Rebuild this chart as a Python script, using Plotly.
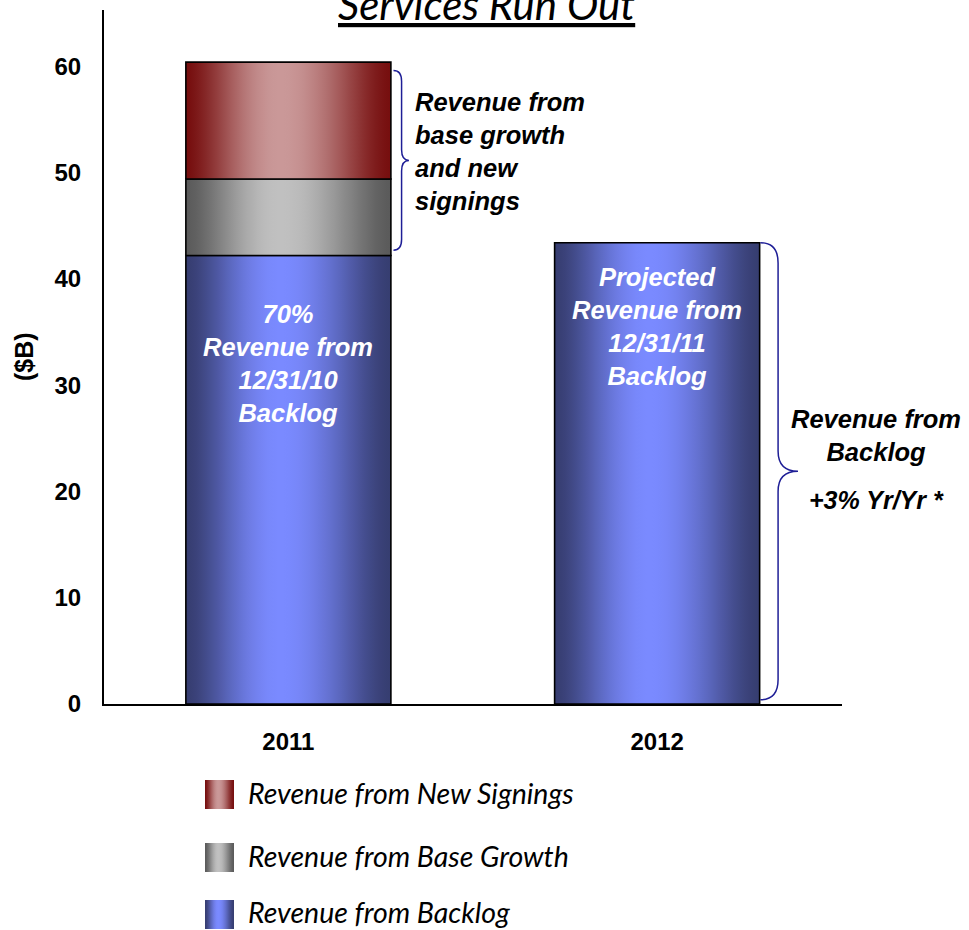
import math
import plotly.graph_objects as go

# ---------------- data ----------------
categories = ["2011", "2012"]
backlog = [42.2, 43.4]
base_growth = [7.2, 0.0]
new_signings = [11.0, 0.0]
series_names = ["Revenue from Backlog", "Revenue from Base Growth", "Revenue from New Signings"]
y_ticks = [0, 10, 20, 30, 40, 50, 60]
title_text = "Services Run Out"
y_title = "($B)"
bar_labels = ["70%<br>Revenue from<br>12/31/10<br>Backlog",
              "Projected<br>Revenue from<br>12/31/11<br>Backlog"]
brace_label_1 = "Revenue from<br>base growth<br>and new<br>signings"
brace_label_2 = "Revenue from<br>Backlog"
brace_label_3 = "+3% Yr/Yr *"

# ---------------- layout constants (pixels) ----------------
W, H = 969, 930
PL, PR, PT, PB = 104, 841.5, 10, 704


def fx(x):
    return x / W


def fy(y):
    return 1 - y / H


BAR_W = 0.556
ARIAL = "Liberation Sans, Arial, sans-serif"
GILL = "Lato, Open Sans, sans-serif"

grad_cols = {
    "Revenue from Backlog": ((54, 61, 112), (122, 138, 255)),
    "Revenue from Base Growth": ((90, 90, 90), (192, 192, 192)),
    "Revenue from New Signings": ((118, 14, 14), (202, 152, 152)),
}
PEAK = 0.46


def gfac(t):
    u = t / PEAK * 0.5 if t < PEAK else 0.5 + (t - PEAK) / (1 - PEAK) * 0.5
    return max(0.0, math.sin(math.pi * u)) ** 1.5


def gcol(name, t):
    e, c = grad_cols[name]
    f = gfac(t)
    return "rgb(%d,%d,%d)" % tuple(round(e[i] + (c[i] - e[i]) * f) for i in range(3))


def cscale(name, n=41):
    return [[k / (n - 1), gcol(name, k / (n - 1))] for k in range(n)]


xs = list(range(len(categories)))
bases_bg = backlog[:]
bases_ns = [backlog[i] + base_growth[i] for i in xs]
series = [
    (series_names[0], backlog, [0.0] * len(xs)),
    (series_names[1], base_growth, bases_bg),
    (series_names[2], new_signings, bases_ns),
]

fig = go.Figure()
for name, vals, bases in series:
    for i in xs:
        if vals[i] <= 0:
            continue
        x0, x1 = xs[i] - BAR_W / 2, xs[i] + BAR_W / 2
        b, t = bases[i], bases[i] + vals[i]
        fig.add_trace(go.Scatter(
            x=[x0, x1, x1, x0, x0], y=[b, b, t, t, b], mode="lines", fill="toself",
            fillgradient=dict(type="horizontal", colorscale=cscale(name), start=x0, stop=x1),
            line=dict(color="black", width=1.6), name=name,
            showlegend=False, hoverinfo="skip"))

# ---------------- legend swatches (full-figure pixel axis) ----------------
legend_order = [series_names[2], series_names[1], series_names[0]]
legend_y = [794.5, 857.5, 914.5]
SW_X0, SW_X1, SW_H = 205, 234, 29
for name, yc in zip(legend_order, legend_y):
    y0, y1 = yc - SW_H / 2, yc + SW_H / 2
    fig.add_trace(go.Scatter(
        x=[SW_X0, SW_X1, SW_X1, SW_X0, SW_X0], y=[y0, y0, y1, y1, y0],
        xaxis="x2", yaxis="y2", mode="lines", fill="toself",
        fillgradient=dict(type="horizontal", colorscale=cscale(name), start=SW_X0, stop=SW_X1),
        line=dict(width=0), showlegend=False, hoverinfo="skip"))

# ---------------- braces ----------------
def brace(x0, x1, x2, yt, yb, d):
    ym = (yt + yb) / 2
    return (f"M {x0},{yt} Q {x1},{yt} {x1},{yt - d} L {x1},{ym + d} "
            f"Q {x1},{ym} {x2},{ym} Q {x1},{ym} {x1},{ym - d} "
            f"L {x1},{yb + d} Q {x1},{yb} {x0},{yb}")


BRACE_COL = "#1e1e96"
tot0 = backlog[0] + base_growth[0] + new_signings[0]
shapes = [
    dict(type="path", xref="x", yref="y",
         path=brace(xs[0] + BAR_W / 2 + 0.007, xs[0] + 0.307, xs[0] + 0.327,
                    tot0 - 0.8, backlog[0] + 0.5, 1.0),
         line=dict(color=BRACE_COL, width=1.5)),
    dict(type="path", xref="x", yref="y",
         path=brace(xs[1] + BAR_W / 2 + 0.002, xs[1] + 0.328, xs[1] + 0.382,
                    backlog[1], 0.4, 1.9),
         line=dict(color=BRACE_COL, width=1.5)),
]

# ---------------- text ----------------
annotations = []
legend_text_y = [793, 856, 911.5]
for name, yc in zip(legend_order, legend_text_y):
    annotations.append(dict(xref="paper", yref="paper", x=fx(246), y=fy(yc), xanchor="left",
                            yanchor="middle", text=name, showarrow=False,
                            font=dict(family=GILL, size=28.5, color="black", style="italic")))
annotations.append(dict(xref="paper", yref="paper", x=fx(486), y=fy(31), xanchor="center",
                        yanchor="bottom", text=f"<u>{title_text}</u>", showarrow=False,
                        font=dict(family=GILL, size=42, color="black", style="italic")))
bar_label_y = [32.0, 35.5]
for i in xs:
    annotations.append(dict(xref="x", yref="y", x=xs[i], y=bar_label_y[i], xanchor="center",
                            yanchor="middle", text=bar_labels[i], showarrow=False, align="center",
                            font=dict(family=ARIAL, size=25.5, color="white", weight="bold",
                                      style="italic")))
annotations.append(dict(xref="paper", yref="paper", x=fx(413), y=fy(151), xanchor="left",
                        yanchor="middle", text=brace_label_1, showarrow=False, align="left",
                        font=dict(family=ARIAL, size=25.5, color="black", weight="bold", style="italic")))
annotations.append(dict(xref="paper", yref="paper", x=fx(876), y=fy(436), xanchor="center",
                        yanchor="middle", text=brace_label_2, showarrow=False, align="center",
                        font=dict(family=ARIAL, size=25.5, color="black", weight="bold", style="italic")))
annotations.append(dict(xref="paper", yref="paper", x=fx(876), y=fy(500), xanchor="center",
                        yanchor="middle", text=brace_label_3, showarrow=False, align="center",
                        font=dict(family=ARIAL, size=25, color="black", weight="bold", style="italic")))

fig.update_layout(
    width=W, height=H,
    margin=dict(l=0, r=0, t=0, b=0, autoexpand=False),
    paper_bgcolor="white", plot_bgcolor="rgba(0,0,0,0)",
    showlegend=False,
    xaxis=dict(domain=[fx(PL), fx(PR)], range=[-0.5, 1.5], tickvals=xs, ticktext=categories,
               showline=True, linecolor="black", linewidth=2, showgrid=False, zeroline=False,
               ticks="", ticklabelstandoff=15, anchor="y",
               tickfont=dict(family=ARIAL, size=24, color="black", weight="bold")),
    yaxis=dict(domain=[fy(PB), fy(PT)], range=[0, 65.3], tickvals=y_ticks, showline=True,
               linecolor="black", linewidth=2, showgrid=False, zeroline=False, ticks="",
               ticklabelstandoff=16, anchor="x",
               tickfont=dict(family=ARIAL, size=24, color="black", weight="bold")),
    xaxis2=dict(domain=[0, 1], range=[0, W], visible=False, anchor="y2", fixedrange=True),
    yaxis2=dict(domain=[0, 1], range=[H, 0], visible=False, anchor="x2", fixedrange=True),
    shapes=shapes,
    annotations=annotations + [
        dict(xref="paper", yref="paper", x=fx(24), y=fy(357), xanchor="center", yanchor="middle",
             text=y_title, textangle=-90, showarrow=False,
             font=dict(family=ARIAL, size=25, color="black", weight="bold"))],
)

fig.write_html("out.html")
